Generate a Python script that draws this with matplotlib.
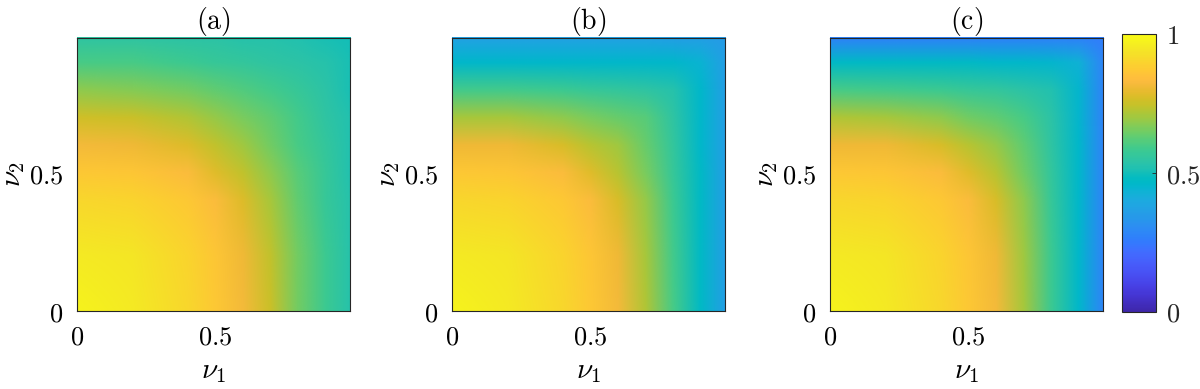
import numpy as np
import matplotlib
matplotlib.use('Agg')
import matplotlib.pyplot as plt
from matplotlib.colors import LinearSegmentedColormap, Normalize
from matplotlib.image import NonUniformImage

plt.rcParams['mathtext.fontset'] = 'cm'
plt.rcParams['font.family'] = 'serif'

# grid of (nu_1, nu_2) where values were read
nu_grid = [0.0, 0.2, 0.4, 0.5, 0.6, 0.7, 0.8, 0.9, 0.99]

# rows: nu_2 from 0 to 0.99, columns: nu_1 from 0 to 0.99
panel_a = [
    [0.98, 0.955, 0.91, 0.87, 0.82, 0.75, 0.65, 0.58, 0.53],
    [0.955, 0.945, 0.90, 0.865, 0.81, 0.74, 0.65, 0.58, 0.53],
    [0.91, 0.90, 0.87, 0.835, 0.78, 0.71, 0.63, 0.57, 0.53],
    [0.87, 0.865, 0.835, 0.785, 0.74, 0.68, 0.62, 0.57, 0.52],
    [0.82, 0.81, 0.78, 0.74, 0.70, 0.65, 0.60, 0.56, 0.52],
    [0.76, 0.75, 0.72, 0.69, 0.66, 0.63, 0.59, 0.55, 0.52],
    [0.68, 0.67, 0.65, 0.63, 0.61, 0.59, 0.57, 0.54, 0.51],
    [0.60, 0.60, 0.58, 0.57, 0.56, 0.55, 0.54, 0.53, 0.51],
    [0.55, 0.55, 0.54, 0.54, 0.53, 0.53, 0.52, 0.51, 0.50],
]

panel_b = [
    [0.98, 0.955, 0.91, 0.87, 0.82, 0.72, 0.60, 0.47, 0.36],
    [0.955, 0.945, 0.90, 0.865, 0.81, 0.71, 0.59, 0.47, 0.36],
    [0.91, 0.90, 0.87, 0.835, 0.77, 0.69, 0.58, 0.47, 0.36],
    [0.87, 0.865, 0.835, 0.785, 0.73, 0.66, 0.57, 0.47, 0.36],
    [0.81, 0.81, 0.77, 0.73, 0.70, 0.64, 0.56, 0.46, 0.36],
    [0.71, 0.71, 0.68, 0.66, 0.64, 0.62, 0.55, 0.46, 0.36],
    [0.59, 0.59, 0.58, 0.57, 0.56, 0.55, 0.53, 0.46, 0.36],
    [0.46, 0.46, 0.46, 0.46, 0.46, 0.46, 0.46, 0.44, 0.36],
    [0.37, 0.37, 0.37, 0.37, 0.37, 0.37, 0.36, 0.36, 0.35],
]

panel_c = [
    [0.98, 0.955, 0.91, 0.87, 0.82, 0.71, 0.58, 0.46, 0.28],
    [0.955, 0.945, 0.90, 0.865, 0.81, 0.70, 0.58, 0.46, 0.28],
    [0.91, 0.90, 0.87, 0.835, 0.77, 0.68, 0.57, 0.46, 0.28],
    [0.87, 0.865, 0.835, 0.785, 0.73, 0.65, 0.56, 0.46, 0.28],
    [0.81, 0.81, 0.77, 0.73, 0.69, 0.63, 0.55, 0.46, 0.28],
    [0.72, 0.71, 0.68, 0.65, 0.63, 0.60, 0.54, 0.45, 0.28],
    [0.60, 0.59, 0.58, 0.57, 0.56, 0.54, 0.52, 0.45, 0.28],
    [0.47, 0.47, 0.47, 0.47, 0.46, 0.46, 0.45, 0.43, 0.28],
    [0.27, 0.27, 0.27, 0.27, 0.27, 0.27, 0.27, 0.27, 0.26],
]

panel_titles = ['(a)', '(b)', '(c)']
tick_vals = [0, 0.5]
tick_labels = ['$0$', '$0.5$']
cbar_ticks = [0, 0.5, 1]
cbar_labels = ['$0$', '$0.5$', '$1$']

# MATLAB parula colormap (64 entries)
parula_rgb = [
    [0.2422, 0.1504, 0.6603], [0.2504, 0.1650, 0.7076], [0.2578, 0.1818, 0.7511],
    [0.2647, 0.1978, 0.7952], [0.2706, 0.2147, 0.8364], [0.2751, 0.2342, 0.8710],
    [0.2783, 0.2559, 0.8991], [0.2803, 0.2782, 0.9221], [0.2813, 0.3006, 0.9414],
    [0.2810, 0.3228, 0.9579], [0.2795, 0.3447, 0.9717], [0.2760, 0.3667, 0.9829],
    [0.2699, 0.3892, 0.9906], [0.2602, 0.4123, 0.9952], [0.2440, 0.4358, 0.9988],
    [0.2206, 0.4603, 0.9973], [0.1963, 0.4847, 0.9892], [0.1834, 0.5074, 0.9798],
    [0.1786, 0.5289, 0.9682], [0.1764, 0.5499, 0.9520], [0.1687, 0.5703, 0.9359],
    [0.1540, 0.5902, 0.9218], [0.1460, 0.6091, 0.9079], [0.1380, 0.6276, 0.8973],
    [0.1248, 0.6459, 0.8883], [0.1113, 0.6635, 0.8763], [0.0952, 0.6798, 0.8598],
    [0.0689, 0.6948, 0.8394], [0.0297, 0.7082, 0.8163], [0.0036, 0.7203, 0.7917],
    [0.0067, 0.7312, 0.7660], [0.0433, 0.7411, 0.7394], [0.0964, 0.7500, 0.7120],
    [0.1408, 0.7584, 0.6842], [0.1717, 0.7670, 0.6554], [0.1938, 0.7758, 0.6251],
    [0.2161, 0.7843, 0.5923], [0.2470, 0.7918, 0.5567], [0.2906, 0.7973, 0.5188],
    [0.3406, 0.8008, 0.4789], [0.3909, 0.8029, 0.4354], [0.4456, 0.8024, 0.3909],
    [0.5044, 0.7993, 0.3480], [0.5616, 0.7942, 0.3045], [0.6174, 0.7876, 0.2612],
    [0.6720, 0.7793, 0.2227], [0.7242, 0.7698, 0.1910], [0.7738, 0.7598, 0.1646],
    [0.8203, 0.7498, 0.1535], [0.8634, 0.7406, 0.1596], [0.9035, 0.7330, 0.1774],
    [0.9393, 0.7288, 0.2100], [0.9728, 0.7298, 0.2394], [0.9956, 0.7434, 0.2371],
    [0.9970, 0.7659, 0.2199], [0.9952, 0.7893, 0.2028], [0.9892, 0.8136, 0.1885],
    [0.9786, 0.8386, 0.1766], [0.9676, 0.8639, 0.1643], [0.9610, 0.8890, 0.1537],
    [0.9597, 0.9135, 0.1423], [0.9628, 0.9373, 0.1265], [0.9691, 0.9606, 0.1064],
    [0.9769, 0.9839, 0.0805],
]
parula = LinearSegmentedColormap.from_list('parula', parula_rgb, N=256)
norm = Normalize(vmin=0, vmax=1)

fig = plt.figure(figsize=(12, 3.89), dpi=100)
fs = 19
frame_col = '#262626'

lefts = [77, 452, 830]
for k, (data, title) in enumerate(zip([panel_a, panel_b, panel_c], panel_titles)):
    ax = fig.add_axes([lefts[k] / 1200, 78 / 389, 273 / 1200, 273 / 389])
    im = NonUniformImage(ax, interpolation='bilinear', cmap=parula, norm=norm,
                         extent=(0, 0.99, 0, 0.99))
    im.set_data(np.array(nu_grid), np.array(nu_grid), np.array(data))
    ax.add_image(im)
    ax.set_xlim(0, 0.99)
    ax.set_ylim(0, 0.99)

    ax.set_xticks(tick_vals)
    ax.set_xticklabels(tick_labels, fontsize=fs)
    ax.set_yticks(tick_vals)
    ax.set_yticklabels(tick_labels, fontsize=fs)
    ax.tick_params(length=0, pad=10)
    ax.set_xlabel(r'$\nu_1$', fontsize=fs + 2, va='center')
    ax.xaxis.set_label_coords(0.5, -0.22)
    ax.set_ylabel(r'$\nu_2$', fontsize=fs + 2, va='center')
    ax.yaxis.set_label_coords(-0.235, 0.5)
    ax.set_title(r'$\mathrm{' + title + '}$', fontsize=fs + 1, pad=5)
    for sp in ax.spines.values():
        sp.set_color(frame_col)
        sp.set_linewidth(0.8)

cax = fig.add_axes([1122 / 1200, 77 / 389, 34 / 1200, 278 / 389])
sm = plt.cm.ScalarMappable(cmap=parula, norm=norm)
cbar = fig.colorbar(sm, cax=cax, ticks=cbar_ticks)
cbar.ax.set_yticklabels(cbar_labels, fontsize=fs)
cbar.ax.tick_params(direction='in', length=3, width=0.6, pad=7, colors=frame_col)
cbar.outline.set_edgecolor(frame_col)
cbar.outline.set_linewidth(0.8)

plt.savefig('out.png', dpi=100)
